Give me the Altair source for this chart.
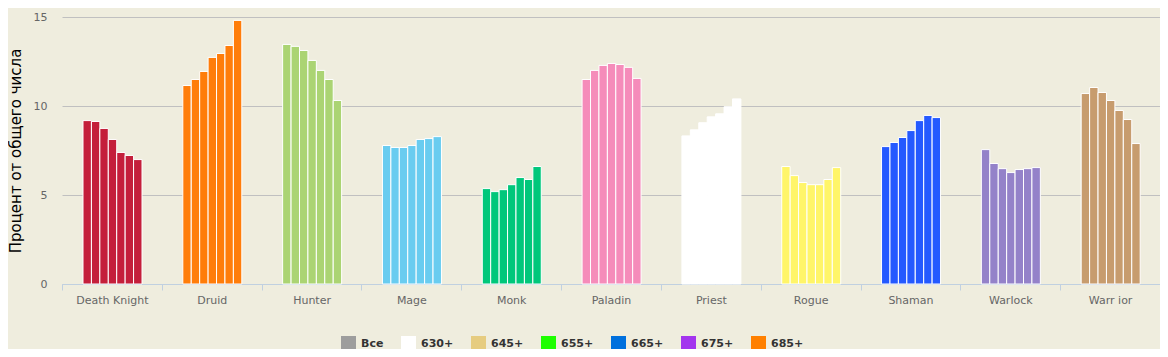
import altair as alt
import pandas as pd

classes = ["Death Knight", "Druid", "Hunter", "Mage", "Monk", "Paladin",
           "Priest", "Rogue", "Shaman", "Warlock", "Warr ior"]
class_colors = ["#C41F3B", "#FF7D0A", "#ABD473", "#69CCF0", "#00C77B", "#F58CBA",
                "#FFFFFF", "#FFF569", "#2459FF", "#9482C9", "#C79C6E"]
series = ["Все", "630+", "645+", "655+", "665+", "675+", "685+"]
series_colors = ["#9D9D9D", "#FFFFFF", "#E6CC80", "#1EFF00", "#0070DD", "#A335EE", "#FF8000"]

death_knight = [9.18, 9.13, 8.74, 8.12, 7.39, 7.22, 6.99]
druid = [11.15, 11.49, 11.94, 12.73, 12.95, 13.40, 14.81]
hunter = [13.46, 13.35, 13.12, 12.56, 12.00, 11.49, 10.31]
mage = [7.78, 7.67, 7.67, 7.78, 8.12, 8.17, 8.28]
monk = [5.36, 5.19, 5.30, 5.58, 5.98, 5.87, 6.60]
paladin = [11.49, 12.00, 12.28, 12.39, 12.33, 12.17, 11.55]
priest = [8.32, 8.66, 9.06, 9.39, 9.56, 9.96, 10.40]
rogue = [6.60, 6.09, 5.70, 5.58, 5.58, 5.87, 6.54]
shaman = [7.72, 7.95, 8.23, 8.62, 9.18, 9.47, 9.35]
warlock = [7.55, 6.77, 6.48, 6.26, 6.43, 6.48, 6.54]
warrior = [10.70, 11.04, 10.76, 10.31, 9.75, 9.24, 7.89]

values = [death_knight, druid, hunter, mage, monk, paladin,
          priest, rogue, shaman, warlock, warrior]

rows = []
for cls, col, vals in zip(classes, class_colors, values):
    for s, v in zip(series, vals):
        rows.append({"cls": cls, "series": s, "value": v, "hex": col})
df = pd.DataFrame(rows)
legend_df = pd.DataFrame({"series": series})

font = "DejaVu Sans"

bars = alt.Chart(df).mark_bar(stroke="white", strokeWidth=1).encode(
    x=alt.X("cls:N", sort=classes, title=None,
            scale=alt.Scale(paddingInner=0, paddingOuter=0),
            axis=alt.Axis(labelAngle=0, tickBand="extent", domainColor="#C0D0E0",
                          tickColor="#C0D0E0", tickSize=6, labelPadding=4,
                          labelColor="#666666", labelFont=font, labelFontSize=11,
                          grid=False)),
    xOffset=alt.XOffset("series:N", sort=series,
                        scale=alt.Scale(paddingInner=0, paddingOuter=0, range=[21, 80])),
    y=alt.Y("value:Q", title="Процент от общего числа",
            scale=alt.Scale(domain=[0, 15], nice=False),
            axis=alt.Axis(values=[0, 5, 10, 15], grid=True, gridColor="#C0C0C0",
                          domain=False, ticks=False, labelPadding=15,
                          labelColor="#666666", labelFont=font, labelFontSize=11,
                          titleFont=font, titleFontSize=15, titleFontWeight="normal",
                          titleColor="#000000", titlePadding=10)),
    fill=alt.Fill("hex:N", scale=None),
)

legend_layer = alt.Chart(legend_df).mark_square(size=0).encode(
    color=alt.Color("series:N", sort=series,
                    scale=alt.Scale(domain=series, range=series_colors),
                    legend=alt.Legend(title=None, orient="none", legendX=279, legendY=319,
                                      direction="horizontal", columns=7,
                                      symbolType="square", symbolSize=225,
                                      symbolOpacity=1, symbolStrokeWidth=0,
                                      labelFont=font, labelFontSize=11,
                                      labelFontWeight="bold", labelColor="#333333",
                                      labelOffset=5, columnPadding=17, padding=0)),
)

chart = alt.layer(bars, legend_layer).properties(
    width=1098, height=267,
    background="#EFEDDE",
    padding={"left": 54, "top": 9, "right": 0, "bottom": 65},
    autosize=alt.AutoSizeParams(type="none"),
).configure_view(stroke=None)

chart.save("out.html", embed_options={"renderer": "svg", "actions": False})
